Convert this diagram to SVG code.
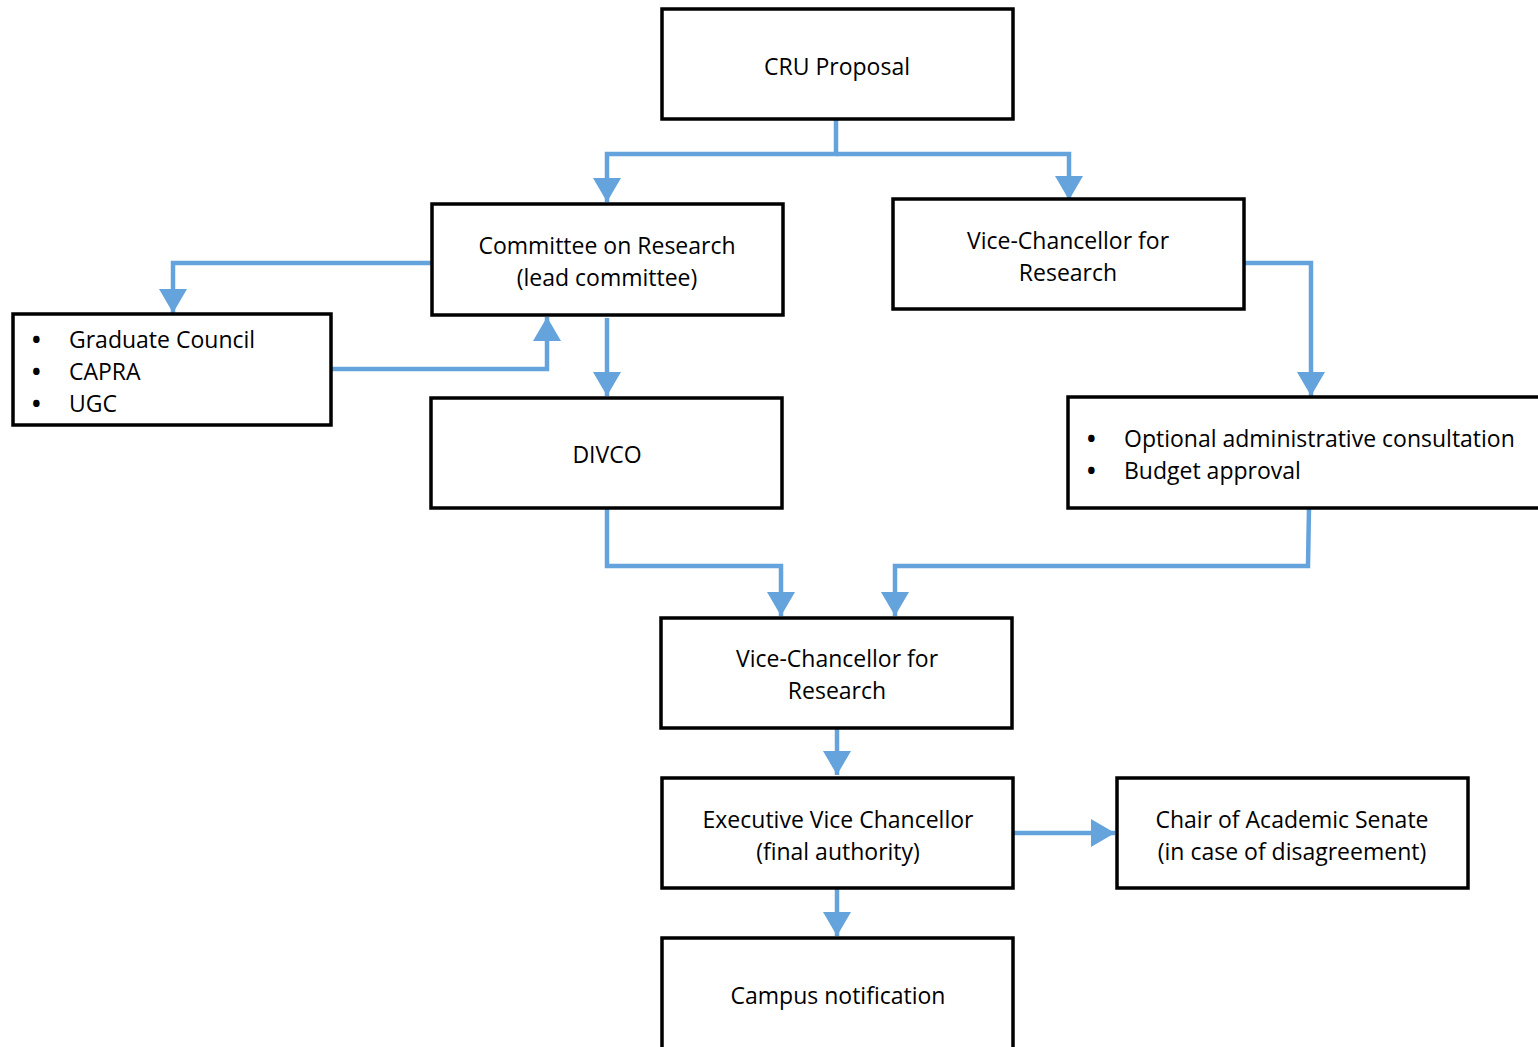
<svg xmlns="http://www.w3.org/2000/svg" width="1538" height="1047" viewBox="0 0 1538 1047">
<style>
.box{fill:#fff;stroke:#000;stroke-width:3.5}
.t{font-family:"Open Sans","Liberation Sans",sans-serif;font-size:23px;fill:#000}
.c{text-anchor:middle}
.ln{fill:none;stroke:#65A3DD;stroke-width:4.5}
</style>
<defs>
<marker id="ah" markerUnits="userSpaceOnUse" markerWidth="28" markerHeight="28" viewBox="0 0 28 28" refX="24" refY="14" orient="auto">
<path d="M0,0 L24,14 L0,28 Z" fill="#65A3DD"/>
</marker>
</defs>
<rect width="1538" height="1047" fill="#fff"/>
<g id="connectors">
<path class="ln" d="M836,119 V154 H607 V202" marker-end="url(#ah)"/>
<path class="ln" d="M836,154 H1069 V200" marker-end="url(#ah)"/>
<path class="ln" d="M432,263 H173 V313" marker-end="url(#ah)"/>
<path class="ln" d="M331,369 H547 V317" marker-end="url(#ah)"/>
<path class="ln" d="M607,318 V396" marker-end="url(#ah)"/>
<path class="ln" d="M1244,263 H1311 V396" marker-end="url(#ah)"/>
<path class="ln" d="M607,508 V566 H781 V616" marker-end="url(#ah)"/>
<path class="ln" d="M1309,508 L1308,566 H895 V616" marker-end="url(#ah)"/>
<path class="ln" d="M837,728 V775" marker-end="url(#ah)"/>
<path class="ln" d="M1013,833 H1115" marker-end="url(#ah)"/>
<path class="ln" d="M837,888 V936" marker-end="url(#ah)"/>
</g>
<g id="cru">
<rect class="box" x="662" y="9" width="351" height="110"/>
<text class="t c" x="837" y="75">CRU Proposal</text>
</g>
<g id="cor">
<rect class="box" x="432" y="204" width="351" height="111"/>
<text class="t c" x="607" y="254">Committee on Research</text>
<text class="t c" x="607" y="286">(lead committee)</text>
</g>
<g id="vcr1">
<rect class="box" x="893" y="199" width="351" height="110"/>
<text class="t c" x="1068" y="249">Vice-Chancellor for</text>
<text class="t c" x="1068" y="281">Research</text>
</g>
<g id="gc">
<rect class="box" x="13" y="314" width="318" height="111"/>
<text class="t" x="32" y="348" style="font-weight:bold">•</text>
<text class="t" x="69" y="348">Graduate Council</text>
<text class="t" x="32" y="380" style="font-weight:bold">•</text>
<text class="t" x="69" y="380">CAPRA</text>
<text class="t" x="32" y="412" style="font-weight:bold">•</text>
<text class="t" x="69" y="412">UGC</text>
</g>
<g id="divco">
<rect class="box" x="431" y="398" width="351" height="110"/>
<text class="t c" x="607" y="463">DIVCO</text>
</g>
<g id="opt">
<rect class="box" x="1068" y="397" width="480" height="111"/>
<text class="t" x="1087" y="447" style="font-weight:bold">•</text>
<text class="t" x="1124" y="447">Optional administrative consultation</text>
<text class="t" x="1087" y="479" style="font-weight:bold">•</text>
<text class="t" x="1124" y="479">Budget approval</text>
</g>
<g id="vcr2">
<rect class="box" x="661" y="618" width="351" height="110"/>
<text class="t c" x="837" y="667">Vice-Chancellor for</text>
<text class="t c" x="837" y="699">Research</text>
</g>
<g id="evc">
<rect class="box" x="662" y="778" width="351" height="110"/>
<text class="t c" x="838" y="828">Executive Vice Chancellor</text>
<text class="t c" x="838" y="860">(final authority)</text>
</g>
<g id="chair">
<rect class="box" x="1117" y="778" width="351" height="110"/>
<text class="t c" x="1292" y="828">Chair of Academic Senate</text>
<text class="t c" x="1292" y="860">(in case of disagreement)</text>
</g>
<g id="campus">
<rect class="box" x="662" y="938" width="351" height="120"/>
<text class="t c" x="838" y="1004">Campus notification</text>
</g>
</svg>
